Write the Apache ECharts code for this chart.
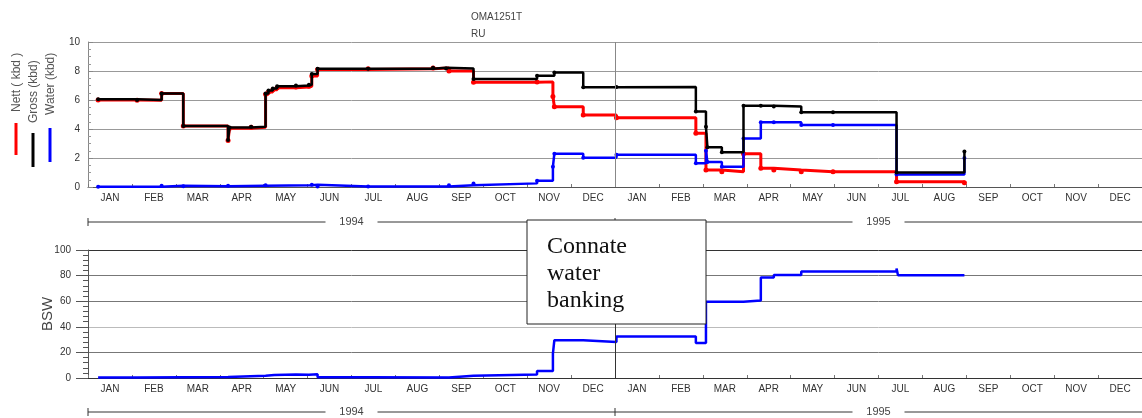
<!DOCTYPE html>
<html><head><meta charset="utf-8">
<script src="https://cdn.jsdelivr.net/npm/echarts@6/dist/echarts.min.js"></script>
<style>html,body{margin:0;padding:0;background:#fff}#c{width:1142px;height:418px}</style>
</head><body><div id="c"></div>
<script>
const months = ['JAN','FEB','MAR','APR','MAY','JUN','JUL','AUG','SEP','OCT','NOV','DEC'];
const monthLabels = months.concat(months);
const years = ['1994','1995'];
const yearBounds = ['1994-01-01','1995-01-01','1996-01-01'];
const legendNames = ['Nett ( kbd )','Gross (kbd)','Water (kbd)'];
const boxText = 'Connate\nwater\nbanking';

const nettData = [
['1994-01-08',6.0],['1994-02-04',5.98],['1994-02-21',6.45],['1994-03-08',4.2],
['1994-04-08',3.2],['1994-04-09',4.05],['1994-04-24',4.12],['1994-05-04',6.4],
['1994-05-06',6.55],['1994-05-09',6.7],['1994-05-12',6.85],['1994-05-25',6.9],
['1994-06-03',6.95],['1994-06-05',7.65],['1994-06-09',8.1],['1994-07-14',8.15],
['1994-08-28',8.2],['1994-09-08',8.0],['1994-09-25',7.22],['1994-11-08',7.25],
['1994-11-19',6.25],['1994-11-20',5.54],['1994-12-10',4.97],['1995-01-02',4.78],
['1995-02-26',3.7],['1995-03-05',1.17],['1995-03-16',1.06],['1995-03-31',2.3],
['1995-04-12',1.3],['1995-04-21',1.17],['1995-05-10',1.06],['1995-06-01',1.06],
['1995-07-15',0.37],['1995-08-31',0.3]
];
const grossData = [
['1994-01-08',6.05],['1994-02-04',6.0],['1994-02-21',6.45],['1994-03-08',4.2],
['1994-04-08',3.25],['1994-04-09',4.1],['1994-04-24',4.15],['1994-05-04',6.45],
['1994-05-06',6.65],['1994-05-09',6.8],['1994-05-12',6.95],['1994-05-25',7.0],
['1994-06-03',7.05],['1994-06-05',7.8],['1994-06-09',8.15],['1994-07-14',8.15],
['1994-08-28',8.22],['1994-09-06',8.18],['1994-09-25',7.45],['1994-11-08',7.68],
['1994-11-20',7.9],['1994-12-10',6.88],['1995-01-02',6.9],['1995-02-26',5.2],
['1995-03-05',4.15],['1995-03-06',2.75],['1995-03-16',2.4],['1995-03-31',5.6],
['1995-04-12',5.6],['1995-04-21',5.55],['1995-05-10',5.15],['1995-06-01',5.15],
['1995-07-15',1.0],['1995-08-31',2.45]
];
const waterData = [
['1994-01-08',0.02],['1994-02-21',0.08],['1994-03-08',0.05],['1994-04-08',0.08],
['1994-05-04',0.12],['1994-06-05',0.15],['1994-06-09',0.03],['1994-07-14',0.03],
['1994-09-08',0.12],['1994-09-25',0.25],['1994-11-08',0.43],['1994-11-19',1.4],
['1994-11-20',2.3],['1994-12-10',2.02],['1995-01-02',2.22],['1995-02-26',1.63],
['1995-03-05',2.5],['1995-03-06',1.72],['1995-03-16',1.4],['1995-03-31',3.35],
['1995-04-12',4.46],['1995-04-21',4.46],['1995-05-10',4.28],['1995-06-01',4.28],
['1995-07-15',0.87],['1995-08-31',2.0]
];
const bswData = [
['1994-01-08',0.3],['1994-02-04',0.8],['1994-04-08',1.8],['1994-05-04',2.3],
['1994-05-10',2.8],['1994-05-25',2.5],['1994-06-03',3.0],['1994-06-09',0.5],
['1994-07-14',0.3],['1994-09-08',1.8],['1994-09-25',2.8],['1994-11-08',5.5],
['1994-11-19',19],['1994-11-20',29.5],['1994-12-10',28.2],['1995-01-02',32.5],
['1995-02-26',27.4],['1995-03-05',59.5],['1995-03-31',60.5],['1995-04-12',78.6],
['1995-04-21',80.5],['1995-05-10',83.3],['1995-07-15',85.5],['1995-07-16',80.3],
['1995-08-31',80.0]
];

const FONT = '"Liberation Sans", Arial, sans-serif';
const chart = echarts.init(document.getElementById('c'), null, {renderer:'canvas'});

function timeAxis(grid, lineColor){
  return {type:'time', gridIndex:grid, position:'bottom', min:yearBounds[0], max:yearBounds[2],
    axisLine:{show:true, onZero:false, lineStyle:{color:lineColor, width:1}},
    axisTick:{show:false}, axisLabel:{show:false}, splitLine:{show:false}};
}
function monthAxis(grid){
  return {type:'category', gridIndex:grid, position:'bottom', data:monthLabels, boundaryGap:true,
    axisLine:{show:false}, axisTick:{show:true, inside:true, length:3, lineStyle:{color:'#777'}},
    axisLabel:{interval:0, fontSize:10, color:'#333', margin:6, fontFamily:FONT},
    splitLine:{show:false}};
}
const yearLine = (color)=>({silent:true, symbol:'none', label:{show:false},
  lineStyle:{color:color, width:1, type:'solid'}, data:[{xAxis:yearBounds[1]}]});

const option = {
  animation:false,
  backgroundColor:'#fff',
  title:{text:'OMA1251T\nRU', left:466, top:4,
    textStyle:{fontSize:10, fontWeight:'normal', color:'#444', lineHeight:17, fontFamily:FONT}},
  grid:[
    {left:88, top:42, width:1054, height:145, outerBoundsMode:'none'},
    {left:88, top:250, width:1054, height:128, outerBoundsMode:'none'}
  ],
  xAxis:[timeAxis(0,'#555'), monthAxis(0), timeAxis(1,'#333'), monthAxis(1)],
  yAxis:[
    {type:'value', gridIndex:0, min:0, max:10, interval:2,
      axisLine:{show:true, lineStyle:{color:'#888'}},
      axisTick:{show:true, inside:true, length:5, lineStyle:{color:'#888'}},
      minorTick:{show:true, splitNumber:4, length:3, lineStyle:{color:'#999'}},
      axisLabel:{fontSize:10, color:'#333', margin:8, fontFamily:FONT},
      splitLine:{show:true, lineStyle:{color:'#999', width:1}}},
    {type:'value', gridIndex:1, min:0, max:100, interval:20,
      name:'BSW', nameLocation:'middle', nameGap:33, nameRotate:90, nameMoveOverlap:false,
      nameTextStyle:{fontSize:15, color:'#444', fontFamily:FONT},
      axisLine:{show:true, lineStyle:{color:'#555'}},
      axisTick:{show:true, inside:false, length:12, lineStyle:{color:'#555'}},
      minorTick:{show:true, splitNumber:5, length:5, lineStyle:{color:'#555'}},
      axisLabel:{fontSize:10, color:'#333', margin:17, fontFamily:FONT},
      splitLine:{show:true, lineStyle:{color:['#333','#777','#bbb','#777','#777','#333'], width:1}}}
  ],
  series:[
    {name:legendNames[2], type:'line', xAxisIndex:0, yAxisIndex:0, step:'end', data:waterData,
      symbol:'circle', symbolSize:4, lineStyle:{color:'#0000ff', width:2.5},
      itemStyle:{color:'#0000ff'}, z:3},
    {name:legendNames[0], type:'line', xAxisIndex:0, yAxisIndex:0, step:'end', data:nettData,
      symbol:'circle', symbolSize:5, lineStyle:{color:'#ff0000', width:3},
      itemStyle:{color:'#ff0000'}, z:2},
    {name:legendNames[1], type:'line', xAxisIndex:0, yAxisIndex:0, step:'end', data:grossData,
      symbol:'circle', symbolSize:4, lineStyle:{color:'#000000', width:2.5},
      itemStyle:{color:'#000000'}, z:4, markLine:yearLine('#888')},
    {name:'BSW', type:'line', xAxisIndex:2, yAxisIndex:1, step:'end', data:bswData,
      showSymbol:false, lineStyle:{color:'#0000ff', width:2.5}, z:3, markLine:yearLine('#333')}
  ]
};
chart.setOption(option);

// graphic annotations: legend, text box, year brackets
const legendColors = ['#ff0000','#000000','#0000ff'];
const legendX = [17, 34, 51];
const legendTextBottom = [112, 123, 115];
const legendLineY = [[123,155],[133,167],[128,162]];
const g = [];
legendNames.forEach((n,i)=>{
  g.push({type:'text', x:legendX[i], y:legendTextBottom[i], rotation:Math.PI/2, z:10,
    style:{text:n, fill:'#555', font:'12px '+FONT, textAlign:'left', textVerticalAlign:'middle'}});
  g.push({type:'line', z:10, shape:{x1:legendX[i]-1, y1:legendLineY[i][0], x2:legendX[i]-1, y2:legendLineY[i][1]},
    style:{stroke:legendColors[i], lineWidth:3}});
});
g.push({type:'rect', z:20, shape:{x:527, y:220, width:179, height:104},
  style:{fill:'#fff', stroke:'#222', lineWidth:1}});
g.push({type:'text', z:21, x:547, y:233,
  style:{text:boxText, fill:'#111', font:'24px "Liberation Serif", "Times New Roman", serif', lineHeight:27,
    textAlign:'left', textVerticalAlign:'top'}});

const toTs = s => new Date(s+'T00:00:00').getTime();
const xs = yearBounds.map(d => chart.convertToPixel({xAxisIndex:0}, toTs(d)));
[222, 412].forEach(y=>{
  years.forEach((yr,i)=>{
    const x0 = xs[i], x1 = xs[i+1], cx = (x0+x1)/2;
    g.push({type:'line', shape:{x1:x0, y1:y, x2:cx-26, y2:y}, style:{stroke:'#333', lineWidth:1}});
    g.push({type:'line', shape:{x1:cx+26, y1:y, x2:x1, y2:y}, style:{stroke:'#333', lineWidth:1}});
    g.push({type:'line', shape:{x1:x0, y1:y-4, x2:x0, y2:y+4}, style:{stroke:'#333', lineWidth:1}});
    g.push({type:'text', x:cx, y:y, style:{text:yr, fill:'#444', font:'11px '+FONT, textAlign:'center', textVerticalAlign:'middle'}});
  });
});
chart.setOption({graphic:g});
</script>
</body></html>
